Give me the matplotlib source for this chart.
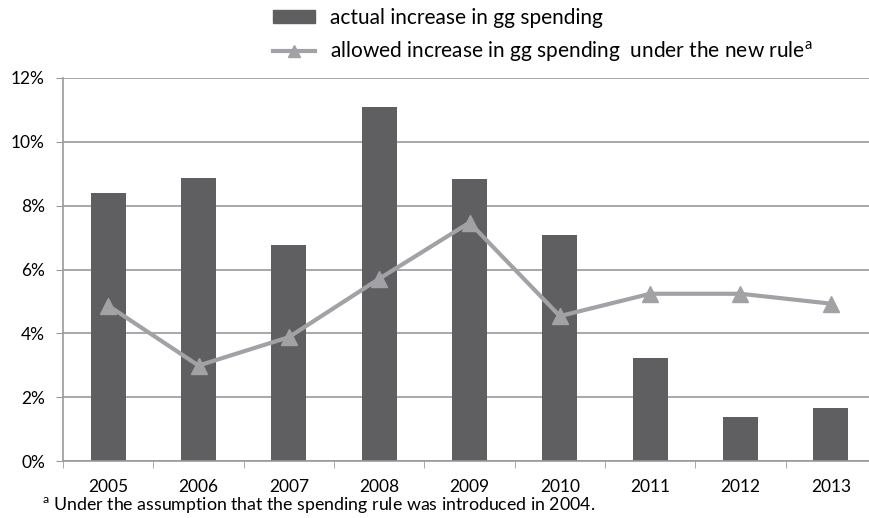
import matplotlib
matplotlib.use("Agg")
import matplotlib.pyplot as plt
from matplotlib.lines import Line2D
from matplotlib.patches import Patch
import numpy as np

plt.rcParams['font.family'] = ['Lato', 'DejaVu Sans']
plt.rcParams['mathtext.fontset'] = 'custom'
plt.rcParams['mathtext.rm'] = 'Lato'

years = ['2005', '2006', '2007', '2008', '2009', '2010', '2011', '2012', '2013']
actual = [8.39, 8.86, 6.76, 11.08, 8.84, 7.08, 3.24, 1.39, 1.67]
allowed = [4.87, 2.99, 3.88, 5.71, 7.47, 4.54, 5.24, 5.24, 4.93]
yticks = [0, 2, 4, 6, 8, 10, 12]

bar_c = '#5f5f61'
line_c = '#a2a2a6'
grid_c = '#9a9a9a'

W, H = 869, 518
fig = plt.figure(figsize=(W/100, H/100), dpi=100)
ax = fig.add_axes([63/W, (H-461)/H, 813/W, (461-78)/H])

x = np.arange(len(years))
ax.bar(x, actual, width=0.39, color=bar_c, zorder=2)
ax.plot(x, allowed, color=line_c, lw=3, marker='^', ms=11, zorder=3)

ax.set_xlim(-0.5, len(years)-0.5)
ax.set_ylim(0, 12)
ax.set_yticks(yticks)
ax.set_yticklabels([f'{v}%' for v in yticks])
ax.yaxis.grid(True, color=grid_c, lw=1.2, zorder=0)

ax.set_xticks(x)
ax.set_xticklabels(years)
ax.set_xticks(np.arange(len(years)+1) - 0.5, minor=True)
ax.tick_params(axis='x', which='major', length=0, pad=13, labelsize=12.5)
ax.tick_params(axis='x', which='minor', length=5, color=grid_c, direction='out')
ax.tick_params(axis='y', length=5, color=grid_c, labelsize=12.5, pad=8)

for s in ['top', 'right']:
    ax.spines[s].set_visible(False)
for s in ['left', 'bottom']:
    ax.spines[s].set_color(grid_c)
    ax.spines[s].set_linewidth(1.2)

handles = [Patch(color=bar_c),
           Line2D([], [], color=line_c, lw=3, marker='^', ms=8)]
labels = ['actual increase in gg spending',
          r'allowed increase in gg spending  under the new rule$^{\mathrm{a}}$']
fig.legend(handles, labels, loc='upper left', bbox_to_anchor=(273/W, (H-8)/H),
           frameon=False, fontsize=15, handlelength=2.0, handleheight=0.58,
           labelspacing=0.56, handletextpad=0.72, borderpad=0, borderaxespad=0)

fig.text(42/W, (H-506)/H,
         r'$^{\mathrm{a}}$ Under the assumption that the spending rule was introduced in 2004.',
         fontsize=12.8, va='center', ha='left')

fig.savefig('out.png', dpi=100)
